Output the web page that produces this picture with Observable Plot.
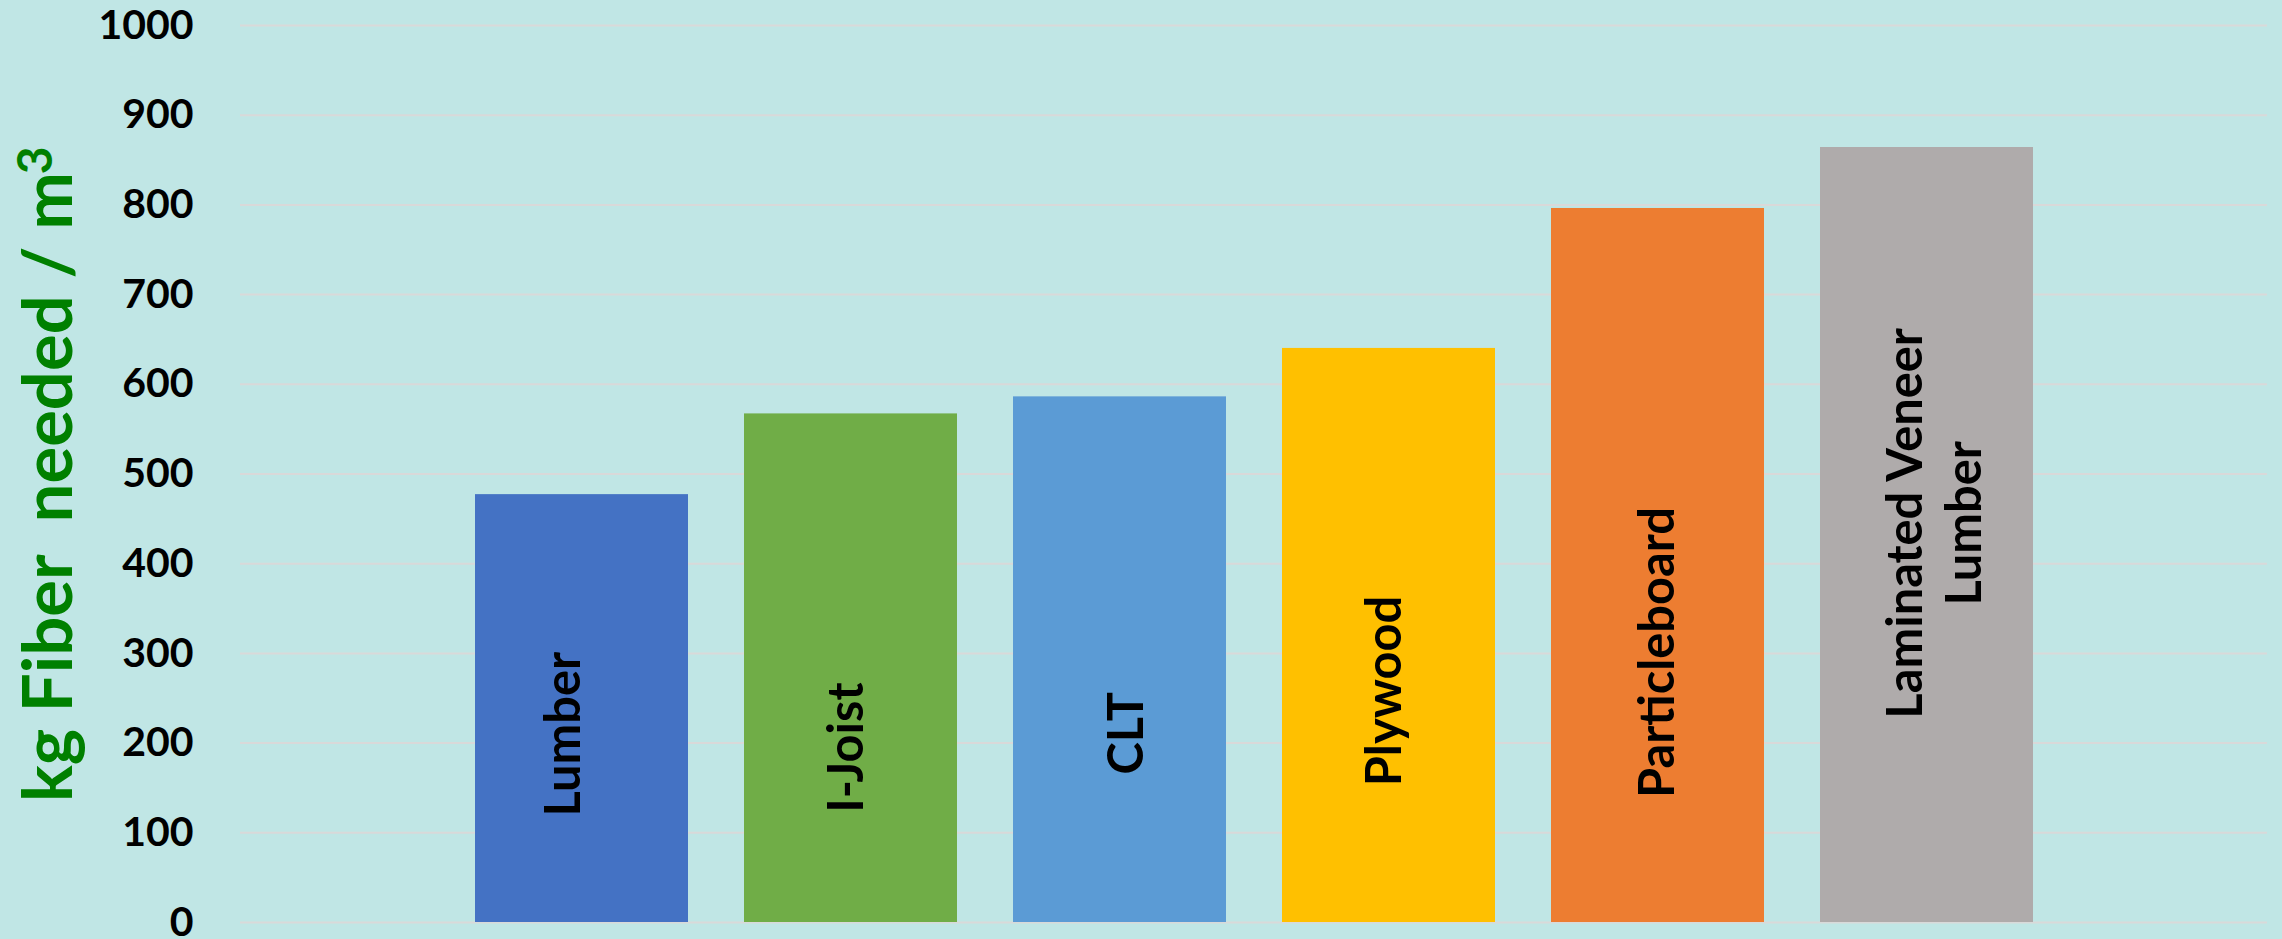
<!DOCTYPE html>
<html><head><meta charset="utf-8">
<script src="https://cdn.jsdelivr.net/npm/d3@7"></script>
<script src="https://cdn.jsdelivr.net/npm/@observablehq/plot@0.6"></script>
<style>html,body{margin:0;padding:0;background:#C0E6E5;} #chart{width:2282px;height:939px;overflow:hidden}</style>
</head><body><div id="chart"></div>
<script>
// ---- data ----
const categories = ["Lumber", "I-Joist", "CLT", "Plywood", "Particleboard", "Laminated Veneer Lumber"];
const barLabels = ["Lumber", "I-Joist", "CLT", "Plywood", "Particleboard", "Laminated Veneer\nLumber"];
const fiberKg = [477, 567, 586, 640, 796, 864];
const yTicks = [0, 100, 200, 300, 400, 500, 600, 700, 800, 900, 1000];
const barColors = ["#4472C4", "#70AD47", "#5B9BD5", "#FFC000", "#ED7D31", "#AFABAB"];
const yTitle = "kg Fiber  needed / m";
const yTitleSup = "3";

// ---- layout (label anchor in data units, pixel nudges) ----
const labelAt = [210, 195, 211, 258, 301, 445];
const labelDx = [-21, -7, 4, -7, -3, 6];

const rows = categories.map((c, i) => ({category: c, value: fiberKg[i], label: barLabels[i]}));

const chart = Plot.plot({
  width: 2282, height: 939,
  marginLeft: 240, marginRight: 15, marginTop: 25, marginBottom: 17,
  style: {background: "#C0E6E5", fontFamily: "Lato, sans-serif", color: "#000"},
  x: {domain: categories, padding: 0.21, insetLeft: 176, insetRight: 176, axis: null},
  y: {domain: [0, 1000], axis: null},
  color: {domain: categories, range: barColors},
  marks: [
    Plot.ruleY(yTicks, {stroke: "#D9D9D9", strokeWidth: 2}),
    Plot.barY(rows, {x: "category", y: "value", fill: "category"}),
    Plot.axisY({ticks: yTicks, tickFormat: d => String(d), tickSize: 0, tickPadding: 47, fontSize: 41, fontWeight: "bold", label: null}),
    ...rows.map((r, i) => Plot.text([r], {
      x: "category", y: [labelAt[i]], text: "label", rotate: -90, dx: labelDx[i],
      fontSize: 50, fontWeight: "bold", lineHeight: 1.21, fill: "#000", className: "barlabel"
    }))
  ]
});
document.getElementById("chart").appendChild(chart);

const svg = d3.select(chart);
svg.selectAll("[aria-label='y-axis tick label'] text").attr("font-weight", "bold");

// fit bar label size to reference width of "Particleboard"
let pb = null;
svg.selectAll(".barlabel text").each(function() { if (this.textContent === "Particleboard") pb = this; });
if (pb) {
  const len = pb.getComputedTextLength();
  const fs = 50 * 291 / len;
  svg.selectAll(".barlabel").attr("font-size", fs);
  svg.selectAll(".barlabel text").attr("font-size", fs);
}

// y-axis title with superscript
const t = svg.append("text")
  .attr("transform", "translate(72,802) rotate(-90)")
  .attr("text-anchor", "start")
  .attr("fill", "#008000").attr("font-weight", "bold")
  .attr("font-family", "Lato, sans-serif")
  .attr("font-size", 66).style("white-space", "pre");
const main = t.append("tspan").text(yTitle);
const mlen = main.node().getComputedTextLength();
t.attr("font-size", 66 * 630 / mlen);
t.append("tspan").attr("font-size", 48).attr("dy", -20).attr("dx", -2).text(yTitleSup);
</script></body></html>
